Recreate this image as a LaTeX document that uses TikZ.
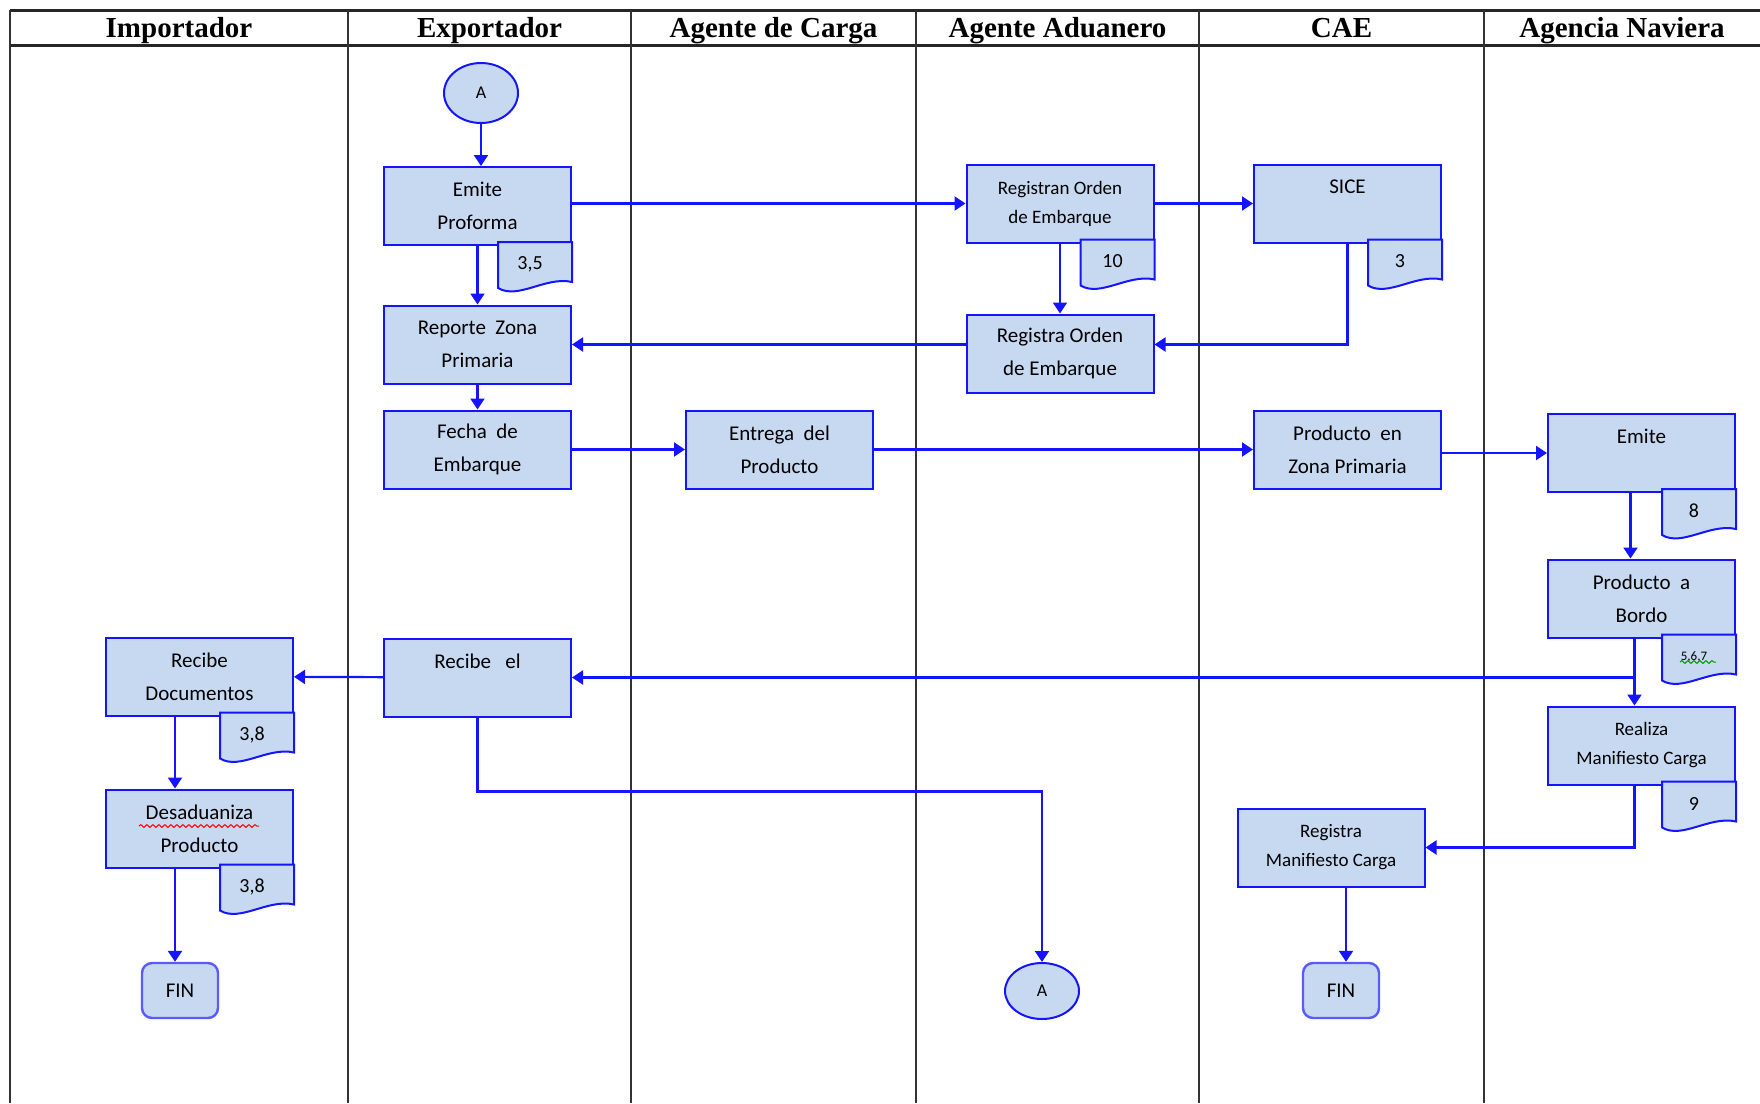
\documentclass[tikz,border=0pt]{standalone}
\usepackage{fontspec}
\setmainfont{Liberation Serif}
\newfontfamily\carlito{Carlito}
\usetikzlibrary{arrows.meta,shapes.geometric,decorations.pathmorphing}

\definecolor{boxfill}{RGB}{198,217,241}
\definecolor{boxline}{RGB}{20,20,255}

\tikzset{
  proc/.style={rectangle, draw=boxline, fill=boxfill, line width=1pt, minimum width=93.5pt,
    minimum height=39pt, align=center, inner sep=2pt, font=\carlito\fontsize{10.5}{16.5}\selectfont},
  procsm/.style={proc, font=\carlito\fontsize{9.5}{14.5}\selectfont},
  conn/.style={ellipse, draw=boxline, fill=boxfill, line width=1pt, minimum width=37pt,
    minimum height=30pt, inner sep=0pt, font=\carlito\fontsize{9}{10}\selectfont},
  fin/.style={rectangle, rounded corners=5pt, draw=boxline!70, fill=boxfill, line width=1.2pt,
    minimum width=38pt, minimum height=27.5pt, font=\carlito\fontsize{10.5}{12}\selectfont},
  flow/.style={draw=boxline, line width=1.1pt, -{Triangle[width=7pt,length=5.5pt]}},
  tagshape/.style={draw=boxline, fill=boxfill, line width=1pt},
  tagtext/.style={font=\carlito\fontsize{10}{12}\selectfont, inner sep=0pt},
  lane/.style={black!80, line width=1pt},
  lanehead/.style={font=\bfseries\fontsize{14.5}{16}\selectfont, anchor=base}
}

% document tag under a box: node, tag name, text
\newcommand{\doctag}[3]{%
  \begin{scope}[shift={(#1.south east)}]
    \path[tagshape] (-74,-4) -- (-74,42) .. controls (-54,54) and (-26,30) .. (0,36) -- (0,-4) -- cycle;
    \node[tagtext] (#2) at (-42,18) {#3};
  \end{scope}}

\begin{document}
\begin{tikzpicture}[x=0.5pt, y=-0.5pt]
    \useasboundingbox (0,0) rectangle (1760,1103);

    \draw[black!85, line width=1.5pt] (10,10) -- (1760,10);
    \draw[black!85, line width=1.5pt] (10,45) -- (1760,45);
    \foreach \x in {10,348,631,916,1199,1484} \draw[lane] (\x,10) -- (\x,1103);
    \foreach \x/\n/\t in {179/hImp/Importador, 489.5/hExp/Exportador, 773.5/hCarga/Agente de Carga,
        1057.5/hAduana/Agente Aduanero, 1341.5/hCAE/CAE, 1622/hNav/Agencia Naviera}
        \node[lanehead] (\n) at (\x,37) {\t};

    \node[conn] (A1) at (481,93) {A};
    \node[proc] (EP) at (477.5,206) {Emite\\Proforma};
    \node[proc] (RZ) at (477.5,344.5) {Reporte\ \ Zona\\Primaria};
    \node[proc] (FE) at (477.5,449.5) {Fecha\ \ de\\Embarque};
    \node[proc] (RE) at (477.5,677.5) {Recibe\ \ \ el\\~};
    \node[proc] (RD) at (199.5,676.5) {Recibe\\Documentos};
    \node[proc] (DP) at (199.5,828.5) {Desaduaniza\\Producto};
    \node[fin] (FIN1) at (180,990.5) {FIN};
    \node[proc] (EN) at (779.5,449.5) {Entrega\ \ del\\Producto};
    \node[procsm] (RO1) at (1060,203.5) {Registran Orden\\de Embarque};
    \node[proc] (RO2) at (1060,353.5) {Registra Orden\\de Embarque};
    \node[conn, minimum height=28pt] (A2) at (1042,991) {A};
    \node[proc] (SICE) at (1347.5,203.5) {SICE\\~};
    \node[proc] (PZ) at (1347.5,449.5) {Producto\ \ en\\Zona Primaria};
    \node[procsm] (RMC) at (1331,847.5) {Registra\\Manifiesto Carga};
    \node[fin] (FIN2) at (1341,990.5) {FIN};
    \node[proc] (EM) at (1641.5,453) {Emite\\~};
    \node[proc] (PB) at (1641.5,598.5) {Producto\ \ a\\Bordo};
    \node[procsm] (RM) at (1641.5,745.5) {Realiza\\Manifiesto Carga};

    \draw[flow] (A1) -- (A1 |- EP.north);
    \draw[flow] (EP) -- (RZ);
    \draw[flow] (RZ) -- (FE);
    \draw[flow] (RO1.west -| EP.east) -- (RO1.west);
    \draw[flow] (RO1) -- (SICE);
    \draw[flow] (RO1) -- (RO2);
    \draw[flow] (SICE.south) |- (RO2.east |- RZ.east);
    \draw[flow] (RO2.west |- RZ.east) -- (RZ.east);
    \draw[flow] (FE) -- (EN);
    \draw[flow] (EN) -- (PZ);
    \draw[flow] (EM.west -| PZ.east) -- (EM.west);
    \draw[flow] ([xshift=-5.5pt]EM.south) -- ([xshift=-5.5pt]PB.north);
    \draw[flow] ([xshift=-3.5pt]PB.south) -- ([xshift=-3.5pt]RM.north);
    \draw[flow] ([xshift=-3.5pt]PB.south |- RE.east) -- (RE.east);
    \draw[flow] (RE) -- (RD);
    \draw[flow] ([xshift=-2.5pt]RD.south -| FIN1) -- ([xshift=-2.5pt]DP.north -| FIN1);
    \draw[flow] ([xshift=-2.5pt]DP.south -| FIN1) -- ([xshift=-2.5pt]FIN1.north);
    \draw[flow] (RE.south) -- ++(0,74) -| (A2.north);
    \draw[flow] ([xshift=-3.5pt]RM.south) |- (RMC.east);
    \draw[flow] ([xshift=2.5pt]RMC.south -| FIN2) -- ([xshift=2.5pt]FIN2.north);

    \doctag{EP}{t1}{3,5}
    \doctag{RO1}{t2}{10}
    \doctag{SICE}{t3}{3}
    \doctag{EM}{t4}{8}
    \doctag{PB}{t5}{\fontsize{6.5}{7}\selectfont 5,6,7}
    \doctag{RM}{t6}{9}
    \doctag{RD}{t7}{3,8}
    \doctag{DP}{t8}{3,8}

    \draw[red, line width=0.5pt, decorate, decoration={snake, amplitude=0.7pt, segment length=3pt}] (139,826) -- (259,826);
    \draw[green!60!black, line width=0.5pt, decorate, decoration={snake, amplitude=0.7pt, segment length=3pt}] (1680,662) -- (1716,662);

\end{tikzpicture}
\end{document}
